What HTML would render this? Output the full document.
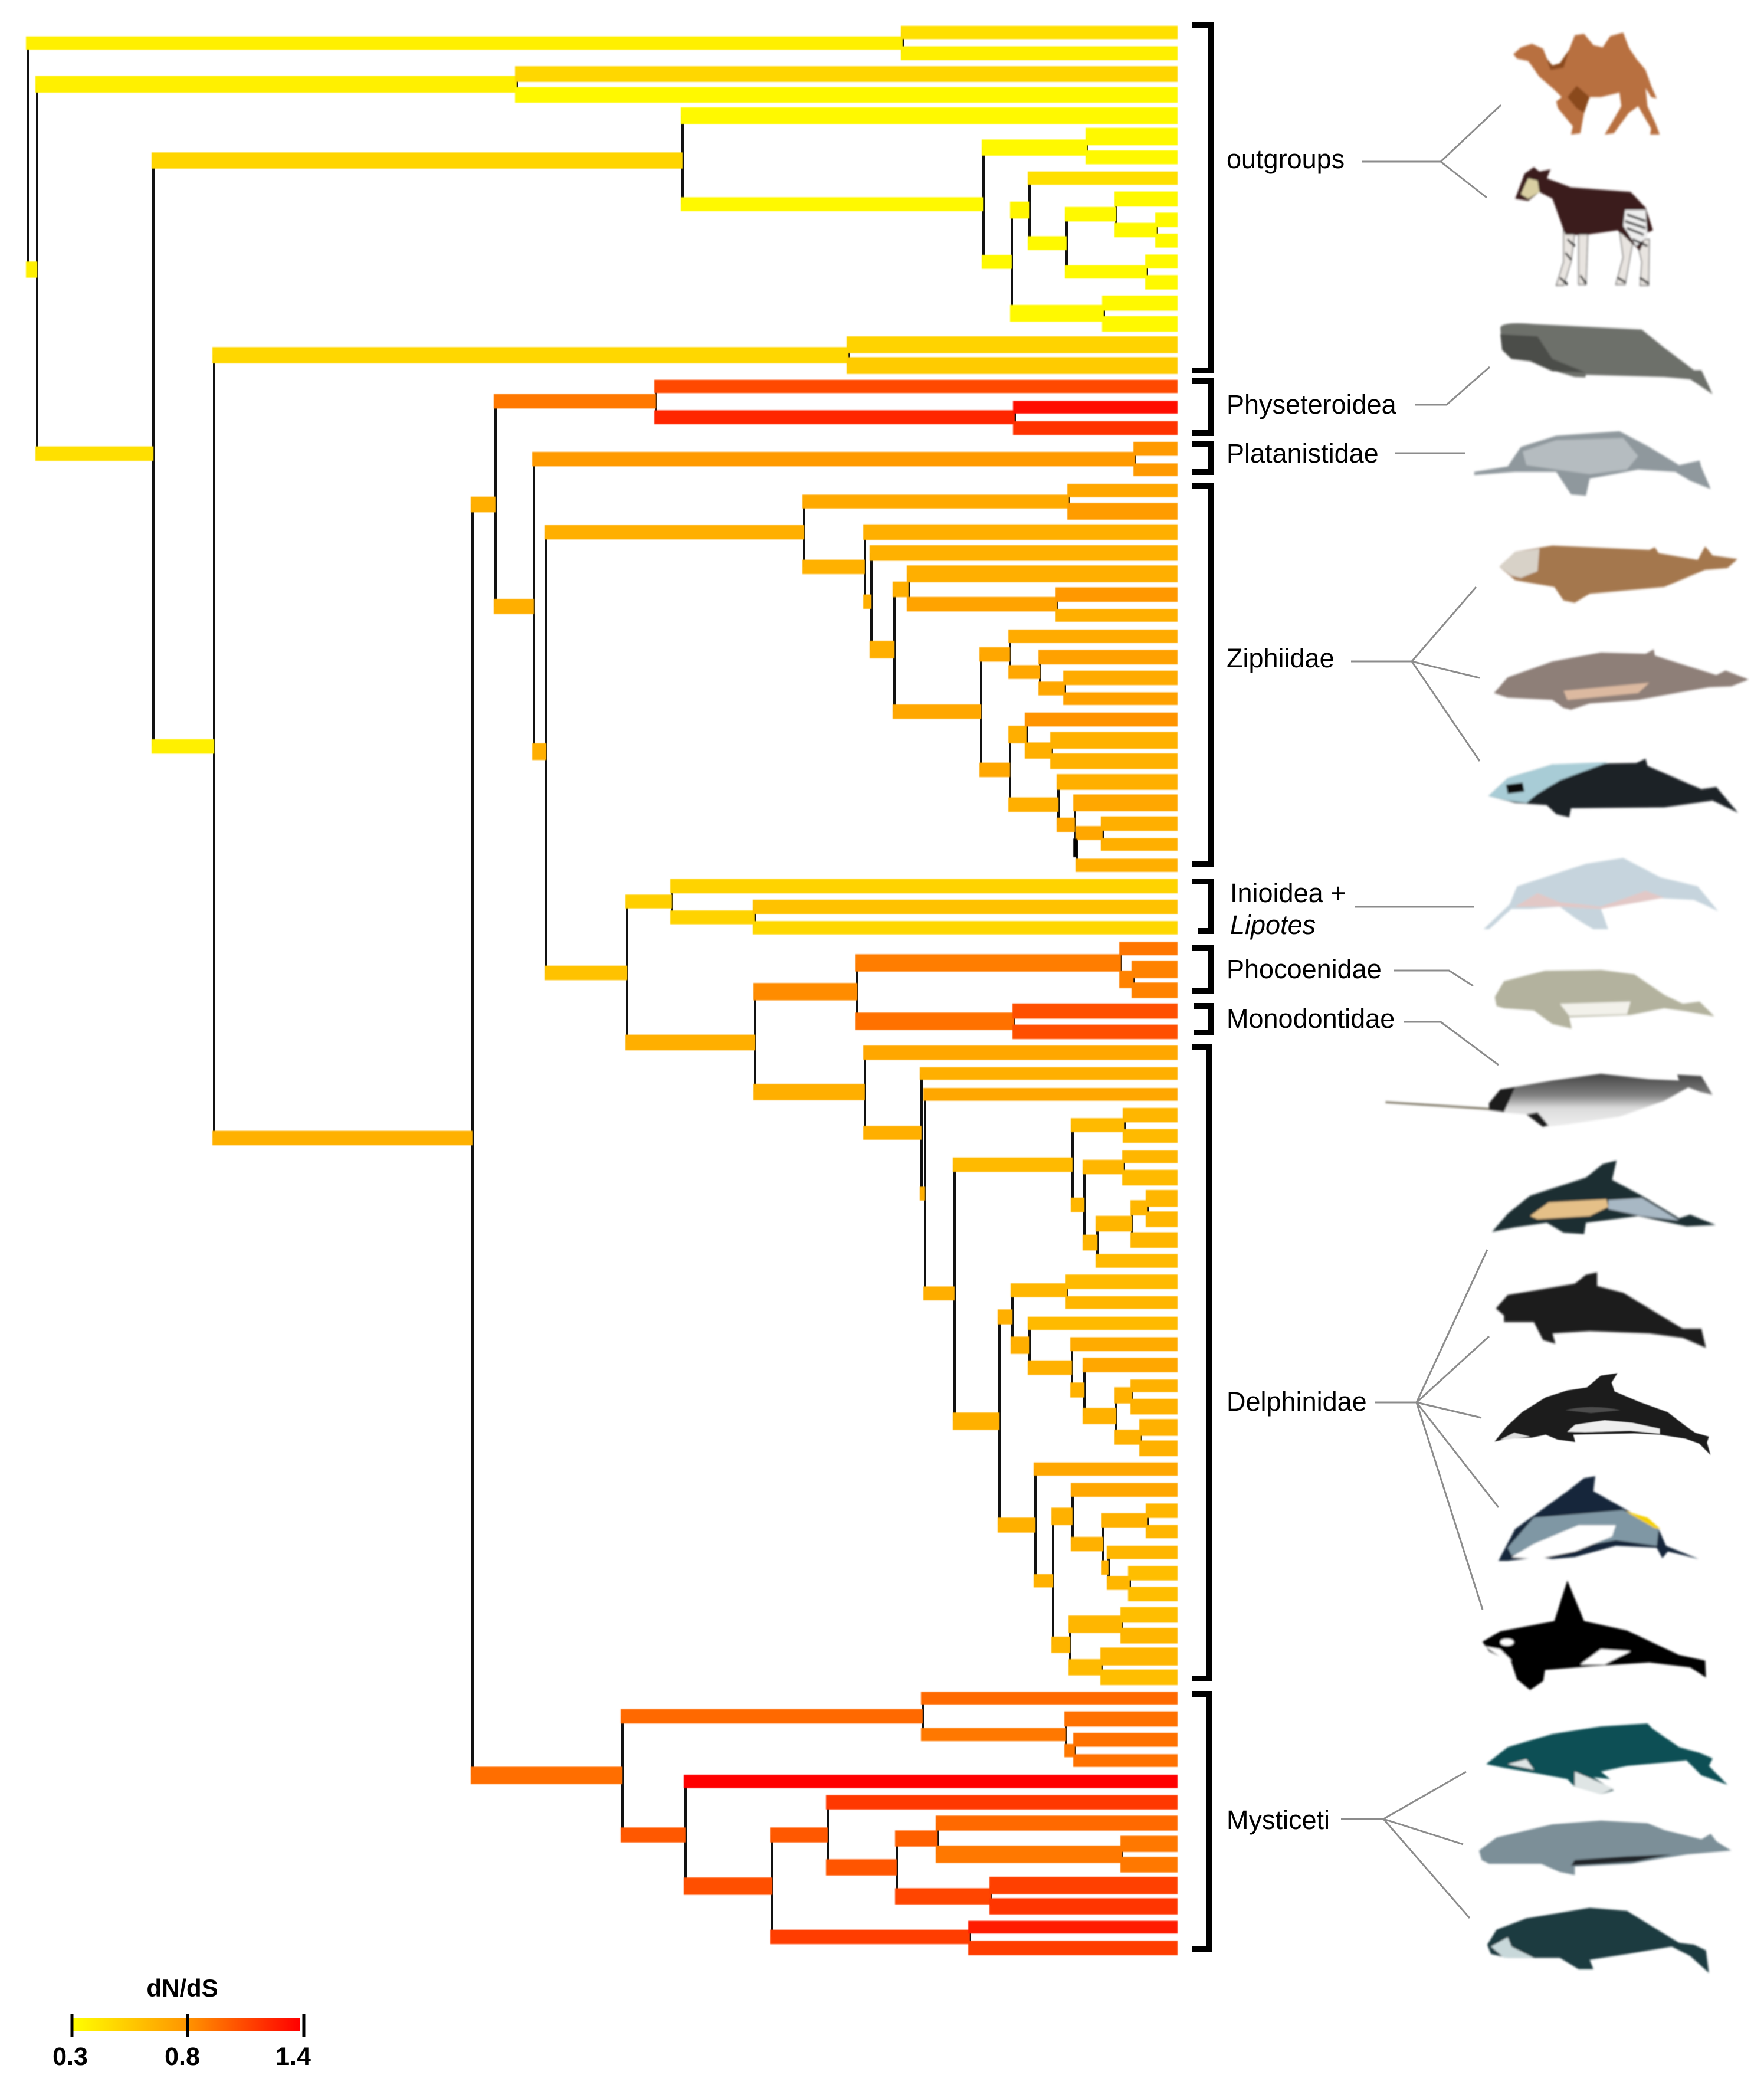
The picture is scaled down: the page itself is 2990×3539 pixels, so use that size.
<!DOCTYPE html>
<html lang="en">
<head>
<meta charset="utf-8">
<title>Cetacean dN/dS phylogeny</title>
<style>
html,body{margin:0;padding:0;background:#fff}
#stage{display:block;width:2990px;height:3539px}
.lab{font-family:"Liberation Sans",sans-serif;font-size:45px;fill:#000}
.leader{fill:none;stroke:#8c8c8c;stroke-width:3}
.bracket{fill:none;stroke:#000;stroke-width:10}
</style>
</head>
<body>
<svg id="stage" xmlns="http://www.w3.org/2000/svg" width="2990" height="3539" viewBox="0 0 2990 3539">
<defs>
<linearGradient id="narwhalShade" x1="0" y1="0" x2="0" y2="1"><stop offset="0" stop-color="#444"/><stop offset=".4" stop-color="#808080"/><stop offset=".65" stop-color="#dcdcdc"/><stop offset="1" stop-color="#eee"/></linearGradient>
<linearGradient id="legendRamp" x1="0" y1="0" x2="1" y2="0"><stop offset="0" stop-color="#ffff00"/><stop offset=".5" stop-color="#ff9600"/><stop offset="1" stop-color="#ff0000"/></linearGradient>
<filter id="softBars"><feGaussianBlur stdDeviation="0.7"/></filter>
<filter id="softArt" x="-5%" y="-5%" width="110%" height="110%"><feGaussianBlur stdDeviation="2.5"/></filter>
</defs>
<rect width="2990" height="3539" fill="#fff"/>
<g id="connectors"></g>
<g id="bars" filter="url(#softBars)"></g>

<g>
<path class="bracket" d="M2021,42H2052V628H2021"/>
<path class="bracket" d="M2021,646H2052V734H2021"/>
<path class="bracket" d="M2021,753H2052V800H2021"/>
<path class="bracket" d="M2021,824H2052V1464H2021"/>
<path class="bracket" d="M2021,1494H2052V1578H2030"/>
<path class="bracket" d="M2021,1607H2052V1679H2021"/>
<path class="bracket" d="M2023,1705H2052V1750H2023"/>
<path class="bracket" d="M2021,1775H2050V2845H2021"/>
<path class="bracket" d="M2021,2871H2050V3304H2021"/>
</g>

<g>
<text class="lab" x="2079" y="285">outgroups</text>
<text class="lab" x="2079" y="701">Physeteroidea</text>
<text class="lab" x="2079" y="784">Platanistidae</text>
<text class="lab" x="2079" y="1131">Ziphiidae</text>
<text class="lab" x="2085" y="1529">Inioidea +</text>
<text class="lab" x="2085" y="1583" font-style="italic">Lipotes</text>
<text class="lab" x="2079" y="1658">Phocoenidae</text>
<text class="lab" x="2079" y="1742">Monodontidae</text>
<text class="lab" x="2079" y="2391">Delphinidae</text>
<text class="lab" x="2079" y="3100">Mysticeti</text>
</g>

<g>
<path class="leader" d="M2308,274H2442L2544,178M2442,274L2520,335"/>
<path class="leader" d="M2398,686H2452L2525,622"/>
<path class="leader" d="M2365,768H2484"/>
<path class="leader" d="M2290,1121H2393L2502,995M2393,1121L2508,1149M2393,1121L2508,1290"/>
<path class="leader" d="M2297,1537H2498"/>
<path class="leader" d="M2362,1645H2456L2497,1671"/>
<path class="leader" d="M2379,1732H2442L2540,1805"/>
<path class="leader" d="M2330,2377H2401L2521,2118M2401,2377L2524,2265M2401,2377L2511,2403M2401,2377L2540,2555M2401,2377L2513,2728"/>
<path class="leader" d="M2273,3083H2345L2485,3003M2345,3083L2480,3126M2345,3083L2491,3251"/>
</g>

<g transform="translate(2000,0) scale(.6314,.7653)" filter="url(#softArt)" stroke-linejoin="round">
<g>
<path fill="#b8703f" d="M895,120L915,105L945,97L975,108L985,130L1000,145L1020,140L1045,110L1060,78L1085,75L1110,100L1135,105L1155,80L1190,72L1205,105L1225,130L1250,155L1265,190L1280,218L1265,215L1250,195L1255,235L1275,270L1288,298L1262,298L1265,285L1230,235L1205,250L1165,295L1140,298L1150,285L1185,235L1180,205L1130,215L1095,215L1085,250L1075,295L1050,298L1055,280L1015,240L1010,225L1025,215L1000,195L965,170L935,135L905,130Z"/>
<path fill="#8a4a1e" d="M975,108L985,130L1000,145L1020,140L1045,110L1030,150L995,155ZM1040,215L1065,190L1100,215L1085,250L1065,240Z"/>
</g>
<g>
<path fill="#e8e4e0" stroke="#222" stroke-width="2" d="M1030,510L1060,515L1050,580L1030,632L1010,632L1030,580ZM1070,515L1095,515L1090,630L1070,630ZM1180,510L1215,540L1195,630L1170,630L1190,570ZM1225,530L1260,530L1258,632L1235,632L1240,580Z"/>
<path fill="#3a1f1c" d="M900,440L925,385L950,370L965,380L995,375L985,395L1050,415L1210,425L1250,460L1270,510L1255,515L1235,555L1175,510L1090,520L1035,520L1000,440L965,425L935,445Z"/>
<path fill="#d9cfa2" d="M915,430L935,395L960,400L965,425L935,440Z"/>
<path fill="#eee" d="M1195,465L1250,465L1255,525L1225,545L1190,500Z"/>
<path fill="none" stroke="#111" stroke-width="5" d="M1200,475L1250,490M1195,490L1250,505M1200,505L1245,520M1215,530L1255,545M1040,530L1060,545M1035,560L1050,575M1020,615L1040,630M1075,610L1090,628M1175,615L1195,625M1235,615L1258,628"/>
</g>
<g>
<path fill="#6d706a" d="M860,725Q870,712 950,718L1240,730L1300,770L1380,820L1400,820L1430,873L1370,840L1300,835L1090,830L1088,836L1060,835L1000,820L940,800L890,795L865,775Z"/>
<path fill="#4c4e49" d="M860,740L960,745L1000,795L1090,825L1000,822L940,800L890,795L865,775Z"/>
</g>
<g>
<path fill="#8f989d" d="M790,1045L880,1033L915,990L1010,965L1180,955L1260,990L1340,1030L1395,1020L1400,1035L1425,1083L1370,1065L1330,1045L1230,1040L1100,1060L1090,1098L1050,1095L1010,1045L900,1045L790,1052Z"/>
<path fill="#b5bcc0" d="M920,1000L1010,975L1190,970L1230,1010L1200,1040L1100,1050L1010,1040L930,1030Z"/>
</g>
<g>
<path fill="#a4774e" d="M857,1255L900,1222L1000,1208L1260,1218L1275,1212L1285,1225L1390,1240L1410,1210L1430,1230L1497,1238L1470,1258L1410,1262L1300,1300L1100,1315L1060,1335L1030,1330L1005,1300L900,1285Z"/>
<path fill="#d8d2c8" d="M857,1255L900,1222L965,1215L960,1265L915,1280L890,1275Z"/>
</g>
<g>
<path fill="#8e7f78" d="M843,1535L880,1500L1000,1465L1130,1445L1250,1448L1272,1438L1275,1452L1440,1495L1465,1485L1527,1505L1480,1520L1420,1522L1230,1550L1100,1558L1050,1572L1030,1568L1000,1550L880,1545Z"/>
<path fill="#dcb9a0" d="M1030,1530L1260,1512L1230,1535L1040,1550Z"/>
</g>
</g>

<g transform="translate(2000,1200) scale(.6314,.7653)" filter="url(#softArt)" stroke-linejoin="round">
<g>
<path fill="#1b2226" d="M828,195L880,155L1000,125L1225,122L1250,112L1255,128L1400,180L1440,175L1498,232L1430,205L1300,220L1050,222L1045,242L1010,235L985,215L900,210Z"/>
<path fill="#a8ccd6" d="M828,195L880,155L1000,125L1150,120L1020,160L960,190L930,210L880,205Z"/>
<path fill="#111" d="M875,170L920,165L925,185L880,190Z"/>
</g>
<g>
<path fill="#c6d4dd" d="M815,490L885,435L905,395L960,380L1090,345L1190,332L1290,375L1390,395L1445,450L1380,425L1260,420L1130,445L1150,490L1110,490L1060,465L1020,440L940,445L890,445L830,490Z"/>
<path fill="#e2c8c6" d="M900,440L960,410L1020,430L1130,440L1250,405L1300,420L1130,445L1020,440Z"/>
</g>
<g>
<path fill="#b3b29e" d="M845,640L870,605L980,582L1130,580L1220,590L1300,635L1350,655L1395,650L1435,683L1360,672L1300,665L1210,680L1045,685L1052,710L1000,700L950,670L870,665L850,660Z"/>
<path fill="#f2f1ea" d="M1020,655L1210,650L1200,678L1045,682Z"/>
</g>
<g>
<path fill="none" stroke="#6b6450" stroke-width="4" d="M552,873L830,888"/>
<path fill="url(#narwhalShade)" d="M830,875L860,845L1000,825L1130,810L1260,822L1340,825L1335,812L1400,815L1430,857L1395,850L1365,840L1300,870L1180,905L1040,922L980,928L930,900L860,895L830,890Z"/>
<path fill="#1c1c1c" d="M830,875L860,845L900,840L870,895L830,890ZM930,900L960,895L990,925L975,928Z"/>
</g>
<g>
<path fill="#1a2d33" d="M838,1160L880,1120L940,1080L1090,1040L1135,1010L1172,1002L1160,1045L1240,1080L1340,1130L1370,1122L1438,1145L1360,1148L1230,1125L1090,1140L1085,1165L1030,1162L985,1140L900,1150Z"/>
<path fill="#e5c088" d="M940,1125L990,1095L1145,1088L1150,1105L1100,1125L960,1132Z"/>
<path fill="#a8b8c4" d="M1150,1090L1240,1085L1340,1135L1240,1125L1150,1110Z"/>
</g>
<g>
<path fill="#1c1c1c" d="M848,1330L880,1300L1060,1275L1090,1255L1120,1250L1120,1280L1190,1295L1290,1345L1350,1375L1400,1375L1412,1417L1350,1395L1260,1385L1100,1380L1000,1385L1008,1408L975,1400L950,1360L870,1360L870,1345Z"/>
</g>
</g>

<g transform="translate(2480,2290) scale(.3333)" filter="url(#softArt)">
<path fill="#1a1a1a" d="M160,460L220,385L300,310L420,235L530,200L630,185L700,125L785,112L755,160L770,205L900,260L1040,310L1130,380L1180,415L1250,435L1240,465L1258,528L1200,470L1130,445L1000,425L870,418L560,425L570,462L480,450L420,425L350,440L230,445Z"/>
<path fill="#4e4e4e" d="M520,300Q650,270 800,300L650,315Z"/>
<path fill="#eee" d="M530,410L570,375L720,352L860,365L1000,395L1000,420L850,405L620,412Z"/>
<path fill="#ddd" d="M190,450L260,415L340,435L230,448Z"/>
</g>

<g transform="translate(2000,2400) scale(.6314,.6378)" filter="url(#softArt)" stroke-linejoin="round">
<g>
<path fill="#15253a" d="M855,385L900,300L1040,200L1085,165L1115,160L1110,200L1200,250L1285,300L1305,345L1392,380L1310,360L1295,378L1280,350L1170,345L1060,375L1000,380L965,375L880,385Z"/>
<path fill="#7f97a4" d="M880,350L950,270L1190,250L1285,300L1280,345L1170,330L1000,360L890,370Z"/>
<path fill="#fff" d="M890,375L950,340L1070,290L1170,290L1160,320L1060,360L960,380Z"/>
<path fill="#f5d000" d="M1195,252L1255,270L1290,300L1275,298L1225,270Z"/>
</g>
<g>
<path fill="#000" d="M812,600L860,572L1005,545L1040,437L1085,545L1200,570L1340,635L1410,650L1412,695L1370,668L1260,655L1100,665L980,675L975,705L940,728L905,700L890,655L830,625Z"/>
<ellipse fill="#fff" cx="878" cy="601" rx="18" ry="9"/>
<path fill="#fff" d="M820,612L880,655L890,650L860,620ZM1075,660L1130,620L1210,625L1140,660Z"/>
</g>
<g>
<path fill="#0f5055" d="M822,925L880,880L1000,845L1130,825L1255,817L1270,832L1340,880L1395,895L1430,910L1420,930L1470,980L1400,955L1360,915L1200,930L1130,945L1155,965L1110,960L1165,995L1130,1005L1060,985L1040,965L960,950L870,935Z"/>
<path fill="#dfe5e5" d="M1060,945L1165,990L1130,1005L1060,985ZM880,925L930,912L950,940L900,930Z"/>
</g>
<g>
<path fill="#7c8f98" d="M803,1155L850,1120L1000,1085L1130,1075L1255,1082L1300,1100L1400,1125L1425,1110L1440,1130L1480,1155L1420,1160L1360,1165L1210,1190L1060,1197L1060,1220L1020,1212L970,1190L830,1190L810,1180Z"/>
<path fill="#23262a" d="M1050,1195L1220,1185L1320,1165L1200,1170L1060,1180Z"/>
</g>
<g>
<path fill="#1f3a40" d="M825,1405L850,1365L930,1335L1100,1307L1200,1315L1290,1370L1340,1400L1380,1405L1412,1420L1420,1480L1370,1435L1320,1410L1200,1430L1100,1445L1110,1470L1070,1470L1020,1440L880,1440L835,1430Z"/>
<path fill="#c8d8da" d="M835,1410L880,1385L890,1410L950,1440L870,1440Z"/>
</g>
</g>

<g id="legend">
<text x="309" y="3384" text-anchor="middle" font-family="'Liberation Sans',sans-serif" font-weight="bold" font-size="42">dN/dS</text>
<rect x="122" y="3420" width="386" height="23" fill="url(#legendRamp)"/>
</g>
</svg>

<script>
// Tree data. Depths are measured back from the tips; rows are in tip-spacing units.
var nodeParent=[18,18,2,2,4,4,6,6,5,9,
9,11,11,12,14,14,15,0,8,8,
19,19,21,22,22,25,25,26,26,29,
30,31,31,32,33,33,35,37,36,36,
39,40,44,42,27,27,45,46,46,48,
48,50,49,53,54,55,55,56,56,59,
59,61,62,57,57,64,64,67,68,69,
70,70,65,73,73,74,76,76,78,75,
75,20,20,82,84,83,86,86,87,89,
89,90];
var nodeDepth=[233,966.5,560,868,419.5,816.5,279,597.5,164.5,76.5,
140.5,125.5,62.5,94,52,26,17.5,974.5,578,470.5,
442,545.5,138,36,535,316.5,466.5,92,265,259.5,
240,228,166.5,102,142,142,116.5,95.5,128,101,
106.5,87,63.5,85,428.5,358,358.5,271.5,265,48,
138.5,37.5,217,214,189,89,151,45,79,45.5,
68,38.5,25.5,140,120.5,93.5,125.5,89.5,79,52,
38.5,31,105.5,89,91,63,25.5,58.5,40.5,47,
64,216,417,94.5,87,343.5,296.5,176,238,203.5,
158,47];
var nodeRow=[0.51,11.39,2.49,20.23,6.15,34.29,15.50,53.10,8.25,5.53,
11.02,8.53,13.49,10.12,8.73,11.50,9.49,5.70,22.67,83.71,
17.71,27.57,18.48,20.49,34.54,24.00,45.17,22.53,25.67,27.34,
29.64,26.75,32.62,27.46,29.87,35.42,30.72,31.51,33.72,37.09,
34.49,38.06,38.45,39.16,41.74,48.51,42.50,46.07,50.89,44.69,
47.49,45.48,52.85,55.77,60.56,54.38,66.70,52.48,56.31,54.49,
58.12,57.21,56.45,61.69,71.69,60.41,63.05,64.13,65.20,66.45,
65.46,67.47,74.36,71.27,77.44,72.60,71.46,73.73,74.47,76.45,
78.52,80.87,86.57,81.75,82.52,89.03,86.57,91.47,88.13,86.74,
89.52,87.50];
var nodeRate=[.37,.37,.37,.45,.50,.37,.49,.67,.33,.33,
.33,.35,.33,.33,.33,.33,.33,.37,.68,.96,
.92,.68,1.24,.78,.68,.68,.59,.71,.67,.68,
.68,.68,.72,.74,.72,.72,.72,.72,.68,.68,
.68,.72,.72,0,.53,.68,.51,.84,.68,.90,
.95,.88,.68,.68,.68,.63,.67,.63,.65,.65,
.65,.65,.65,.68,.67,.65,.68,.67,.67,.67,
.67,.67,.67,.67,.65,.67,.67,.67,.65,.65,
.63,.98,1.05,.92,.92,1.08,1.05,1.16,1.06,1.02,
1.13,.92];
var nodeWeight=[21,26,27,23,26,23,26,23,22,26,
22,27,27,22,23,21,23,22,25,28,
23,24,22,23,27,23,23,22,23,23,
28,25,23,23,23,23,22,22,28,23,
26,23,22,30,22,25,22,28,26,28,
28,28,22,22,22,23,28,22,23,23,
25,25,24,24,24,22,28,23,24,26,
26,24,21,28,26,23,23,23,22,28,
26,23,24,21,21,28,24,23,26,26,
26,28];
var tipParent=[1,1,3,3,5,10,10,12,15,17,
17,16,16,13,13,7,7,21,23,23,
24,24,28,28,29,30,32,34,34,35,
37,38,38,39,41,41,40,42,43,43,
44,45,47,47,50,52,52,51,51,49,
53,54,58,58,60,60,63,63,62,61,
66,66,67,68,69,71,71,72,72,65,
74,77,77,78,79,79,80,80,81,81,
82,84,85,85,83,87,90,92,92,91,
91,88,88];
var tipRate=[.45,.37,.49,.33,.33,.33,.33,.45,.33,.33,
.33,.33,.33,.33,.33,.51,.55,1.11,1.34,1.21,
.78,.78,.72,.77,.68,.67,.68,.79,.68,.70,
.75,.70,.75,.81,.67,.67,.68,.72,.68,.68,
.68,.51,.59,.49,.93,.88,.88,1.08,1.08,.72,
.68,.72,.65,.63,.65,.63,.65,.65,.65,.63,
.63,.65,.63,.70,.72,.67,.67,.67,.67,.72,
.72,.65,.65,.65,.61,.61,.61,.65,.65,.61,
.98,.95,.95,.95,1.4,1.18,.98,.92,.92,1.14,
1.19,1.29,1.16];
var tipWeight=[21,22,25,25,27,28,22,21,24,23,
22,22,23,24,25,27,27,21,20,22,
22,20,21,27,25,25,27,23,20,21,
23,23,20,22,27,25,25,27,23,20,
21,23,23,21,21,28,25,24,23,23,
20,20,23,22,20,25,27,25,25,22,
23,20,21,22,23,20,25,27,25,21,
22,23,21,21,23,23,25,25,29,25,
20,24,22,20,21,23,24,26,25,28,
26,20,23];
var legendValues=[0.3,0.8,1.4];
var legendLabels=["0.3","0.8","1.4"];

function xScale(depth){return 1996-depth*2;}
function yScale(row){return 55+row*35.29;}
function thickness(weight){return weight+1.5;}
function rateColor(rate){
  if(rate<=0){return "#000";}
  var g=rate<=0.8?255-(rate-0.3)*210:150-(rate-0.8)*250;
  g=Math.max(0,Math.min(255,Math.round(g)));
  return "rgb(255,"+g+",0)";
}
function legendX(v){return v<=0.8?122+(v-0.3)*392:318+(v-0.8)*328.3;}

var svgNS="http://www.w3.org/2000/svg";
var barsLayer=document.getElementById("bars");
var connectorLayer=document.getElementById("connectors");
var legendLayer=document.getElementById("legend");

function drawBar(name,depthStart,depthEnd,row,rate,weight){
  var x0=xScale(depthStart)-3,x1=xScale(depthEnd),h=thickness(weight);
  var r=document.createElementNS(svgNS,"rect");
  r.setAttribute("x",x0);
  r.setAttribute("y",yScale(row)-h/2);
  r.setAttribute("width",Math.max(1,x1-x0));
  r.setAttribute("height",h);
  r.setAttribute("fill",rateColor(rate));
  
  
  barsLayer.appendChild(r);
}

var rowMin=[],rowMax=[];
function noteChild(parent,row){
  if(parent<1){return;}
  if(rowMin[parent]===undefined||row<rowMin[parent]){rowMin[parent]=row;}
  if(rowMax[parent]===undefined||row>rowMax[parent]){rowMax[parent]=row;}
}
for(var i=0;i<nodeParent.length;i++){noteChild(nodeParent[i],nodeRow[i]);}
for(var t=0;t<tipParent.length;t++){noteChild(tipParent[t],t);}

for(var n=0;n<nodeParent.length;n++){
  var id=n+1;
  if(rowMin[id]===undefined){continue;}
  var line=document.createElementNS(svgNS,"rect");
  line.setAttribute("x",xScale(nodeDepth[n])-2);
  line.setAttribute("y",yScale(rowMin[id]));
  line.setAttribute("width",4);
  line.setAttribute("height",yScale(rowMax[id])-yScale(rowMin[id]));
  line.setAttribute("fill","#111");
  
  
  connectorLayer.appendChild(line);
}
for(var b=0;b<nodeParent.length;b++){
  if(nodeParent[b]===0){continue;}
  drawBar("internal-branch",nodeDepth[nodeParent[b]-1],nodeDepth[b],nodeRow[b],nodeRate[b],nodeWeight[b]);
}
for(var k=0;k<tipParent.length;k++){
  drawBar("tip-branch",nodeDepth[tipParent[k]-1],0,k,tipRate[k],tipWeight[k]);
}
for(var m=0;m<legendValues.length;m++){
  var tick=document.createElementNS(svgNS,"rect");
  tick.setAttribute("x",legendX(legendValues[m])-2.5);
  tick.setAttribute("y",3413);
  tick.setAttribute("width",5);
  tick.setAttribute("height",39);
  tick.setAttribute("fill","#000");
  
  
  legendLayer.appendChild(tick);
  var lab=document.createElementNS(svgNS,"text");
  lab.setAttribute("x",legendX(legendValues[m])-(m===2?18:(m===1?9:3)));
  lab.setAttribute("y",3500);
  lab.setAttribute("text-anchor","middle");
  lab.setAttribute("font-family","'Liberation Sans',sans-serif");
  lab.setAttribute("font-weight","bold");
  lab.setAttribute("font-size","43");
  lab.textContent=legendLabels[m];
  
  
  legendLayer.appendChild(lab);
}
</script>
</body>
</html>
